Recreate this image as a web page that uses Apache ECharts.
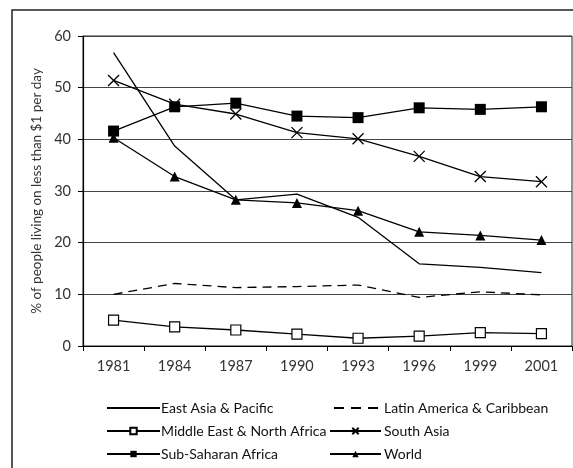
<!DOCTYPE html>
<html>
<head>
<meta charset="utf-8">
<script src="https://cdn.jsdelivr.net/npm/echarts@6/dist/echarts.min.js"></script>
<style>
  html, body { margin: 0; padding: 0; background: #fff; }
  #main { width: 573px; height: 468px; }
</style>
</head>
<body>
<div id="main"></div>
<script>
const years = ['1981', '1984', '1987', '1990', '1993', '1996', '1999', '2001'];
const eastAsia = [56.8, 38.7, 28.3, 29.4, 24.9, 15.9, 15.2, 14.2];
const latinAmerica = [10.0, 12.1, 11.3, 11.5, 11.8, 9.4, 10.5, 9.9];
const middleEast = [5.0, 3.7, 3.1, 2.3, 1.5, 1.9, 2.6, 2.4];
const southAsia = [51.4, 46.8, 44.9, 41.3, 40.1, 36.7, 32.8, 31.8];
const subSaharan = [41.6, 46.3, 47.0, 44.5, 44.2, 46.1, 45.8, 46.3];
const world = [40.3, 32.8, 28.3, 27.7, 26.2, 22.1, 21.4, 20.5];

const font = 'Lato';
const crossPath = 'path://M0,0L10,10M10,0L0,10';

const chart = echarts.init(document.getElementById('main'));

// one legend per entry so they sit in two uneven columns like the original
function legendAt(name, left, top, width, gap, extra) {
    return Object.assign({
        data: [name],
        left: left,
        top: top,
        padding: 0,
        itemWidth: width,
        itemHeight: 8,
        itemGap: 0,
        selectedMode: false,
        textStyle: {fontFamily: font, fontSize: 14, color: '#111', padding: [0, 0, 0, gap - 5]}
    }, extra || {});
}

const lineStyle = {color: '#000', width: 1.3};

const option = {
    animation: false,
    textStyle: {fontFamily: font},
    graphic: [{
        type: 'rect',
        shape: {x: 12, y: 10, width: 620, height: 520},
        style: {fill: 'none', stroke: '#222', lineWidth: 1.5},
        z: -1
    }],
    legend: [
        legendAt('East Asia & Pacific', 106, 401, 53, 1, {itemStyle: {opacity: 0}}),
        legendAt('Latin America & Caribbean', 333, 401, 44, 6, {
            itemStyle: {opacity: 0},
            lineStyle: {type: [10, 7]}
        }),
        legendAt('Middle East & North Africa', 106, 424, 53, 1),
        legendAt('South Asia', 329, 424, 51, 3),
        legendAt('Sub-Saharan Africa', 106, 447, 53, 1),
        legendAt('World', 329, 447, 51, 3)
    ],
    grid: {
        left: 83, top: 36, right: 1, bottom: 122,
        show: true, borderColor: '#222', borderWidth: 1
    },
    xAxis: {
        type: 'category',
        data: years,
        boundaryGap: true,
        axisLine: {lineStyle: {color: '#000', width: 1.2}},
        axisTick: {show: true, length: 5, lineStyle: {color: '#000'}},
        axisLabel: {fontFamily: font, fontSize: 14.5, color: '#333', margin: 13}
    },
    yAxis: {
        type: 'value',
        min: 0, max: 60, interval: 10,
        name: '% of people living on less than $1 per day',
        nameLocation: 'middle',
        nameGap: 38,
        nameTextStyle: {fontFamily: font, fontSize: 13.5, color: '#333'},
        axisLine: {show: true, lineStyle: {color: '#000', width: 1.2}},
        axisTick: {show: true, length: 5, lineStyle: {color: '#000'}},
        axisLabel: {fontFamily: font, fontSize: 14.5, color: '#333', margin: 12},
        splitLine: {lineStyle: {color: '#444', width: 1}}
    },
    series: [
        {
            name: 'East Asia & Pacific', type: 'line', data: eastAsia,
            symbol: 'none', lineStyle: lineStyle, itemStyle: {color: '#000'}
        },
        {
            name: 'Latin America & Caribbean', type: 'line', data: latinAmerica,
            symbol: 'none', lineStyle: {color: '#000', width: 1.3, type: [9, 6]},
            itemStyle: {color: '#000'}
        },
        {
            name: 'Middle East & North Africa', type: 'line', data: middleEast,
            symbol: 'rect', symbolSize: 10, lineStyle: lineStyle,
            itemStyle: {color: '#fff', borderColor: '#000', borderWidth: 1.2}
        },
        {
            name: 'South Asia', type: 'line', data: southAsia,
            symbol: crossPath, symbolSize: 11, lineStyle: lineStyle,
            itemStyle: {color: 'transparent', borderColor: '#000', borderWidth: 1.3}
        },
        {
            name: 'Sub-Saharan Africa', type: 'line', data: subSaharan,
            symbol: 'rect', symbolSize: 11, lineStyle: lineStyle,
            itemStyle: {color: '#000'}
        },
        {
            name: 'World', type: 'line', data: world,
            symbol: 'triangle', symbolSize: 10, lineStyle: lineStyle,
            itemStyle: {color: '#000'}
        }
    ]
};

chart.setOption(option);
</script>
</body>
</html>
